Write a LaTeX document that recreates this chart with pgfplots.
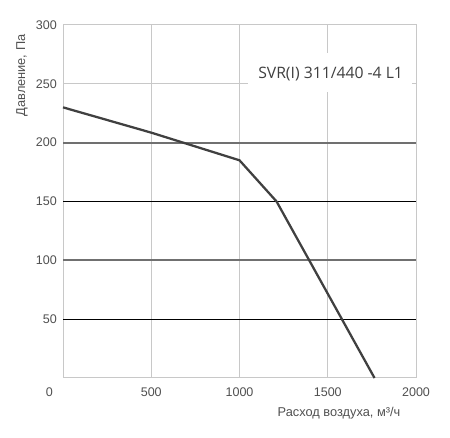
\documentclass[border=0pt]{standalone}
\usepackage{fontspec}
\setmainfont{Liberation Sans}
\newfontfamily\titlefont{Open Sans}
\usepackage{pgfplots}
\pgfplotsset{compat=1.18}

\definecolor{gridgray}{HTML}{C8C8C8}
\definecolor{midgray}{HTML}{707070}
\definecolor{curvegray}{HTML}{404040}
\definecolor{textgray}{HTML}{505050}

\begin{document}
\begin{tikzpicture}
\begin{axis}[
    scale only axis,
    width=264.75pt, height=264.75pt,
    xmin=0, xmax=2000, ymin=0, ymax=300,
    xtick={500,1000,1500,2000},
    ytick={50,100,...,300},
    major tick length=0pt,
    grid=major,
    major grid style={gridgray, line width=0.75pt},
    axis line style={gridgray, line width=0.75pt},
    /pgf/number format/assume math mode=true,
    /pgf/number format/set thousands separator={},
    tick label style={font=\fontsize{9.4}{11}\selectfont, text=textgray},
    xticklabel style={anchor=center, yshift=-10.5pt},
    yticklabel style={anchor=east, inner sep=0pt, xshift=-4.5pt},
    ylabel={Давление, Па},
    ylabel style={at={(rel axis cs:-0.116,0.986)}, anchor=east, rotate=0,
        font=\fontsize{9.6}{11}\selectfont, text=textgray},
    xlabel={Расход воздуха, м³/ч},
    xlabel style={at={(rel axis cs:0.969,-0.099)}, anchor=east,
        font=\fontsize{9.6}{11}\selectfont, text=textgray},
    clip=false,
]
% emphasised horizontal lines
\addplot[midgray, line width=1.3pt, forget plot] coordinates {(0,200) (2000,200)};
\addplot[midgray, line width=1.3pt, forget plot] coordinates {(0,100) (2000,100)};
\addplot[black, line width=0.8pt, forget plot] coordinates {(0,150) (2000,150)};
\addplot[black, line width=0.8pt, forget plot] coordinates {(0,50) (2000,50)};

% fan curve
\addplot[curvegray, line width=1.7pt] coordinates {
    (0,230) (500,208.5) (1000,185) (1210,150) (1765,0)
};

% model label
\fill[white] (rel axis cs:0.524,0.810) rectangle (rel axis cs:0.988,0.921);
\node[font=\titlefont\fontsize{11.8}{13}\selectfont, text=curvegray, anchor=base,
      inner sep=0pt] at (rel axis cs:0.758,0.849) {SVR(I) 311/440 -4 L1};

% shared zero label
\node[font=\fontsize{9.4}{11}\selectfont, text=textgray] at (rel axis cs:-0.039,-0.040) {0};

% page extent
\path (rel axis cs:-0.1785,-0.170) rectangle (rel axis cs:1.0963,1.0708);
\end{axis}
\end{tikzpicture}
\end{document}
